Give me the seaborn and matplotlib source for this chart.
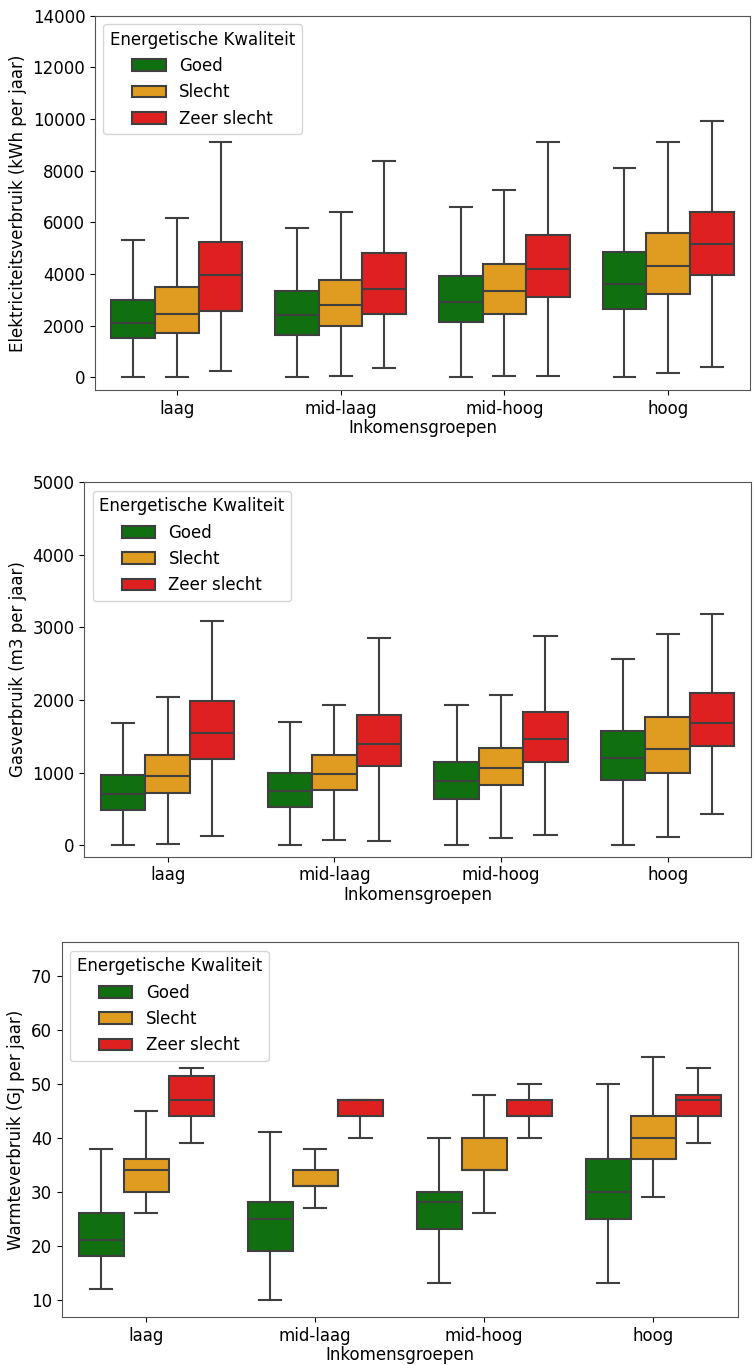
import pandas as pd
import matplotlib
matplotlib.use("Agg")
import matplotlib.pyplot as plt
import seaborn as sns

# -----------------------------
# Data (read from the boxes: whisker low, Q1, median, Q3, whisker high)
# order: per income group -> Goed, Slecht, Zeer slecht
# -----------------------------

groepen = ["laag", "mid-laag", "mid-hoog", "hoog"]
kwaliteit = ["Goed", "Slecht", "Zeer slecht"]

elek_lo = [0, 0, 250, 0, 50, 360, 0, 60, 60, 0, 150, 380]
elek_q1 = [1500, 1700, 2550, 1650, 2000, 2430, 2120, 2450, 3100, 2630, 3210, 3950]
elek_med = [2100, 2450, 3950, 2400, 2780, 3400, 2920, 3350, 4180, 3620, 4290, 5140]
elek_q3 = [3000, 3500, 5250, 3320, 3750, 4820, 3930, 4370, 5500, 4830, 5580, 6380]
elek_hi = [5300, 6150, 9100, 5780, 6400, 8370, 6600, 7250, 9100, 8120, 9100, 9920]

gas_lo = [0, 15, 130, 0, 75, 55, 0, 95, 135, 5, 110, 430]
gas_q1 = [490, 720, 1185, 525, 765, 1090, 630, 830, 1145, 895, 995, 1370]
gas_med = [710, 950, 1540, 750, 985, 1400, 880, 1065, 1460, 1195, 1330, 1680]
gas_q3 = [965, 1245, 1990, 1000, 1240, 1790, 1150, 1335, 1840, 1570, 1770, 2100]
gas_hi = [1680, 2040, 3090, 1700, 1935, 2850, 1925, 2075, 2880, 2565, 2910, 3190]

warmte_lo = [12, 26, 39, 10, 27, 40, 13, 26, 40, 13, 29, 39]
warmte_q1 = [18, 30, 44, 19, 31, 44, 23, 34, 44, 25, 36, 44]
warmte_med = [21, 34, 47, 25, 31, 47, 28, 34, 44, 30, 40, 47]
warmte_q3 = [26, 36, 51.5, 28, 34, 47, 30, 40, 47, 36, 44, 48]
warmte_hi = [38, 45, 53, 41, 38, 47, 40, 48, 50, 50, 55, 53]

kleuren = {"Goed": "green", "Slecht": "orange", "Zeer slecht": "red"}


def maak_frame(lo, q1, med, q3, hi, kolom):
    rows = []
    i = 0
    for g in groepen:
        for k in kwaliteit:
            for v in (lo[i], q1[i], med[i], q3[i], hi[i]):
                rows.append({"Inkomensgroepen": g, "Energetische Kwaliteit": k, kolom: v})
            i += 1
    return pd.DataFrame(rows)


plt.rcParams["font.family"] = ["DejaVu Sans"]
plt.rcParams["font.size"] = 12

fig = plt.figure(figsize=(7.54, 13.65), dpi=100)
W, H = 754, 1365

panels = [
    (maak_frame(elek_lo, elek_q1, elek_med, elek_q3, elek_hi, "elek"), "elek",
     "Elektriciteitsverbruik (kWh per jaar)", (-495, 14000), (95, 750, 15.7, 390)),
    (maak_frame(gas_lo, gas_q1, gas_med, gas_q3, gas_hi, "gas"), "gas",
     "Gasverbruik (m3 per jaar)", (-160, 5000), (84.3, 751, 482.3, 856.7)),
    (maak_frame(warmte_lo, warmte_q1, warmte_med, warmte_q3, warmte_hi, "warmte"), "warmte",
     "Warmteverbruik (GJ per jaar)", (6.73, 76.2), (61.7, 737.7, 942.3, 1317.3)),
]

for df, kolom, ylabel, ylim, (l, r, t, b) in panels:
    ax = fig.add_axes([l / W, 1 - b / H, (r - l) / W, (b - t) / H])
    sns.boxplot(data=df, x="Inkomensgroepen", y=kolom, hue="Energetische Kwaliteit",
                palette=kleuren, whis=(0, 100), showfliers=False,
                linewidth=1.5, linecolor="#3f3f3f", ax=ax)
    ax.set_ylabel(ylabel, fontsize=12)
    ax.set_xlabel("Inkomensgroepen", fontsize=12, labelpad=1)
    ax.set_ylim(*ylim)
    ax.tick_params(labelsize=12)
    for s in ax.spines.values():
        s.set_color("#555555")
    ax.legend(title="Energetische Kwaliteit", loc="upper left", fontsize=12,
              title_fontsize=12)

plt.savefig("out.png", dpi=100)
plt.close()
